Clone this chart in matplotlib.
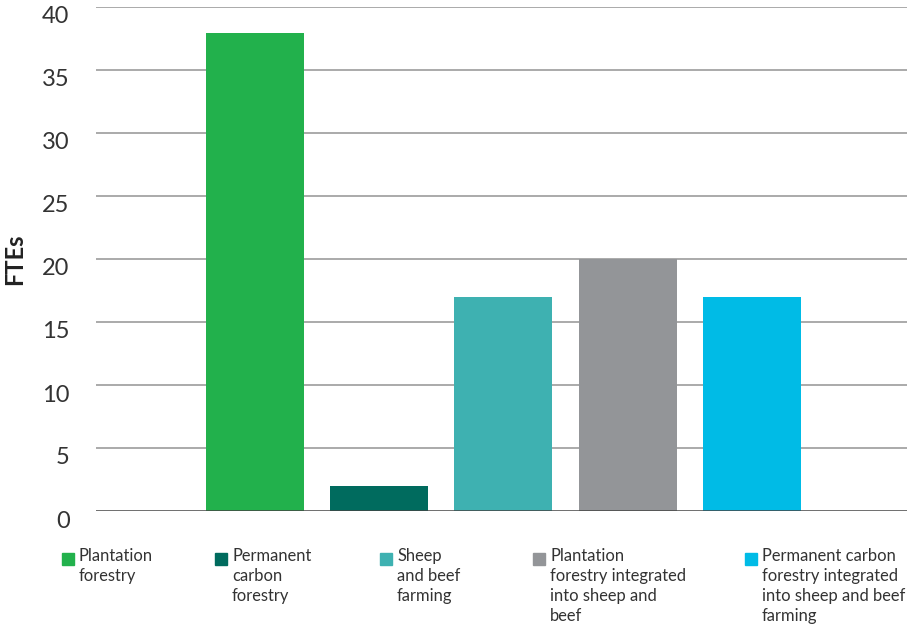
import numpy as np
import matplotlib.pyplot as plt
import matplotlib.transforms as mtransforms
from matplotlib.patches import Rectangle

plt.rcParams['font.family'] = ['Lato', 'DejaVu Sans']

categories = ['Plantation\nforestry',
              'Permanent\ncarbon\nforestry',
              'Sheep\nand beef\nfarming',
              'Plantation\nforestry integrated\ninto sheep and\nbeef',
              'Permanent carbon\nforestry integrated\ninto sheep and beef\nfarming']
ftes = [37.9, 2, 17, 20, 17]
colors = ['#22b14c', '#006b5e', '#3eb1b1', '#939598', '#00bbe6']
yticks = [0, 5, 10, 15, 20, 25, 30, 35, 40]

W, H = 907, 628
fig = plt.figure(figsize=(W / 100, H / 100), dpi=100)
ax = fig.add_axes([96 / W, 1 - 511 / H, 1 - 96 / W, (511 - 7) / H])

x = np.arange(len(ftes))
ax.bar(x, ftes, width=0.79, color=colors, zorder=3)

ax.set_ylim(0, 40)
ax.set_xlim(-1.28, 4.2 + 1.05)
ax.set_yticks(yticks)
ax.set_xticks([])
for t in yticks[1:]:
    ax.axhline(t, color='#aaaaaa', lw=1.4, zorder=1)
ax.axhline(0, color='#444444', lw=1.8, zorder=4)
for s in ax.spines.values():
    s.set_visible(False)
ax.tick_params(axis='y', length=0, pad=19, labelsize=17, labelcolor='#333333')
# labels sit a little below their gridlines in the original
shift = mtransforms.ScaledTranslation(0, -0.08, fig.dpi_scale_trans)
for lab in ax.get_yticklabels():
    lab.set_transform(lab.get_transform() + shift)
ax.set_ylabel('FTEs', fontsize=17, fontweight='bold', color='#222222')
ax.yaxis.set_label_coords(-70 / (W - 96), 0.5)

# legend along the bottom
sq_x = [62, 215, 380, 533, 745]
for i, lab in enumerate(categories):
    fig.add_artist(Rectangle((sq_x[i] / W, 1 - 565 / H), 12 / W, 12 / H,
                             color=colors[i], transform=fig.transFigure))
    fig.text((sq_x[i] + 17) / W, 1 - 548 / H, lab, fontsize=11.9, color='#333333',
             va='top', ha='left', linespacing=1.31)

fig.savefig('out.png', dpi=100)
